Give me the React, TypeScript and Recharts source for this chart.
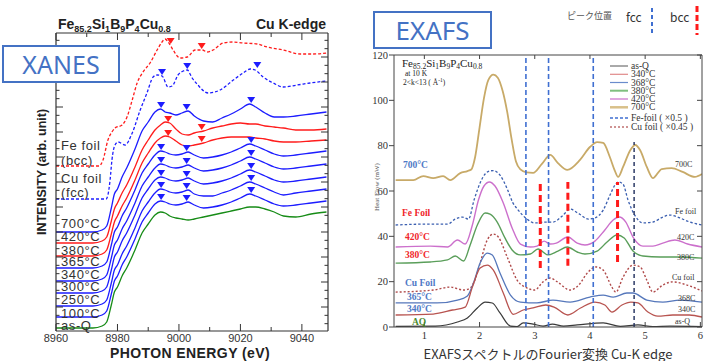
import React from 'react';
import { ComposedChart, Line, Scatter, XAxis, YAxis, ReferenceLine } from 'recharts';

// Two panels side by side: Cu K-edge XANES (left) and the EXAFS Fourier transform (right).

const sans = '"Liberation Sans", Arial, sans-serif';
const serif = '"Liberation Serif", "Times New Roman", serif';
const jp = '"Noto Sans CJK JP", "Noto Sans", sans-serif';
const BOX_BLUE = '#4472c4';

const BLUE = '#1c1cff';
const RED = '#ff1c1c';
const GREEN = '#178c17';

// ---------------- XANES ----------------
const xanesTicksX = [8960, 8970, 8980, 8990, 9000, 9010, 9020, 9030, 9040];

const xanesEnergy = [8960, 8972, 8975, 8976.5, 8978, 8979, 8980, 8981.5, 8983, 8985.7, 8988, 8990, 8992.2, 8994,
  8995.5, 8997, 8999, 9001, 9003, 9005, 9008, 9011, 9014, 9017, 9020, 9023, 9025, 9028, 9031, 9034, 9038, 9043, 9048];
const xanesAsQ = [3, 3, 5, 9, 26, 39, 44, 55, 63, 81, 98, 107, 116, 119,
  118, 115, 113, 112, 111, 112, 114, 116, 118, 120, 122, 124, 124, 122, 119, 115, 114, 117, 119];
const xanes100 = [14, 14, 16, 20, 37, 50, 55, 66, 74, 92, 109, 118, 127, 130,
  129, 127, 126, 127, 129, 126, 123, 124, 126, 129, 133, 137, 135, 131, 127, 125, 126, 128, 130];
const xanes250 = [25, 25, 27, 31, 48, 61, 66, 77, 85, 103, 120, 129, 138, 142,
  141, 139, 138, 139, 141, 137, 135, 135, 138, 141, 145, 149, 147, 143, 139, 136, 138, 140, 142];
const xanes300 = [38, 38, 40, 44, 61, 74, 79, 90, 98, 116, 133, 142, 151, 154,
  153, 151, 150, 151, 153, 150, 147, 148, 150, 153, 157, 161, 159, 155, 151, 149, 150, 152, 154];
const xanes340 = [50, 50, 52, 56, 73, 86, 91, 102, 110, 128, 145, 154, 163, 167,
  166, 164, 163, 164, 166, 163, 160, 161, 163, 166, 170, 174, 172, 168, 164, 162, 163, 165, 167];
const xanes365 = [63, 63, 65, 69, 86, 99, 104, 115, 123, 141, 158, 167, 176, 180,
  179, 177, 176, 177, 179, 176, 173, 174, 176, 179, 183, 187, 185, 181, 177, 175, 176, 178, 180];
const xanes380 = [75, 75, 77, 81, 97, 109, 115, 125, 133, 151, 168, 178, 188, 193,
  195, 194, 190, 186, 185, 186, 188, 191, 193, 194, 194, 194, 193, 192, 190, 189, 189, 190, 191];
const xanes420 = [88, 88, 90, 94, 110, 122, 128, 138, 146, 164, 181, 191, 201, 206,
  209, 208, 202, 197, 196, 198, 200, 203, 205, 207, 208, 207, 207, 205, 204, 203, 201, 201, 202];
const xanes700 = [99, 99, 101, 105, 123, 137, 142, 154, 163, 182, 200, 209, 219, 222,
  219, 218, 216, 218, 220, 215, 210, 209, 213, 217, 222, 227, 224, 218, 214, 214, 215, 217, 219];

const feFoilEnergy = [8960, 8974, 8975.3, 8976.9, 8978.2, 8979.2, 8981.5, 8983.1, 8984.8, 8986.4, 8988.3, 8990.6, 8992.9,
  8994.5, 8995.5, 8996.5, 8998.1, 9000.4, 9002.7, 9005.3, 9007.6, 9009.2, 9011.1, 9014.4, 9017.7, 9020.9, 9025.5,
  9028.7, 9033.9, 9039.5, 9043.7, 9048];
const feFoilXanes = [165, 165, 171, 191, 199, 203, 206, 214, 231, 248, 259, 268, 281,
  289, 292, 289, 281, 273, 274, 281, 281, 279, 281, 288, 289, 288, 287,
  284, 281, 277, 277, 278];

const cuFoilEnergy = [8960, 8976.3, 8976.9, 8977.6, 8978.2, 8979.2, 8980.2, 8982.5, 8984.8, 8987.4, 8989.6, 8991.6, 8992.9,
  8994.5, 8996.5, 8997.8, 8999.7, 9001.4, 9002.7, 9004.3, 9005.9, 9009.5, 9013.4, 9017.7, 9020.9, 9023.2, 9024.8,
  9027.4, 9030.7, 9033.9, 9038.5, 9042.7, 9048];
const cuFoilXanes = [132, 132, 136, 151, 171, 186, 189, 186, 198, 221, 238, 254, 256,
  255, 244, 245, 256, 260, 261, 253, 247, 238, 241, 251, 258, 262, 261,
  254, 248, 244, 246, 248, 250];

// peak markers (down triangles)
const xanesBlueMarks = [
  { e: 8994.2, v: 134 }, { e: 9002.5, v: 133 }, { e: 9023.5, v: 141 },
  { e: 8994.2, v: 146 }, { e: 9002.5, v: 145 }, { e: 9023.5, v: 153 },
  { e: 8994.2, v: 158 }, { e: 9002.5, v: 157 }, { e: 9023.5, v: 165 },
  { e: 8994.2, v: 171 }, { e: 9002.5, v: 170 }, { e: 9023.5, v: 178 },
  { e: 8994.2, v: 184 }, { e: 9002.5, v: 183 }, { e: 9023.5, v: 191 },
  { e: 8994.2, v: 226 }, { e: 9002.5, v: 224 }, { e: 9023.5, v: 231 },
  { e: 8994.5, v: 259 }, { e: 9002.7, v: 265 }, { e: 9025.5, v: 266 },
];
const xanesRedMarks = [
  { e: 8996.5, v: 198 }, { e: 9007.4, v: 192 },
  { e: 8996.5, v: 212 }, { e: 9007.4, v: 204 },
  { e: 8997.3, v: 290 }, { e: 9007.4, v: 285 },
];

const xanesLabels = [
  { t: 'Fe foil', y: 146 }, { t: '(bcc)', y: 161 }, { t: 'Cu foil', y: 179 }, { t: '(fcc)', y: 193 },
  { t: '700°C', y: 224 }, { t: '420°C', y: 237 }, { t: '380°C', y: 251 }, { t: '365°C', y: 262 },
  { t: '340°C', y: 275 }, { t: '300°C', y: 287 }, { t: '250°C', y: 300 }, { t: '100°C', y: 314 },
  { t: 'as-Q', y: 326 },
];

// ---------------- EXAFS ----------------
const exafsTicksX = [1, 2, 3, 4, 5, 6];
const exafsTicksY = [0, 20, 40, 60, 80, 100, 120];

const ex700R = [0.48, 0.8, 0.98, 1.16, 1.34, 1.47, 1.65, 1.78, 1.85, 1.92, 2.0, 2.08, 2.16, 2.25, 2.33, 2.42, 2.5, 2.58,
  2.66, 2.74, 2.85, 2.97, 3.13, 3.28, 3.42, 3.59, 3.82, 4.0, 4.13, 4.24, 4.36, 4.45, 4.51, 4.6, 4.73, 4.82, 4.91, 5.03,
  5.14, 5.3, 5.48, 5.68, 5.9, 6.03];
const ex700 = [64.8, 64.8, 66.6, 65.7, 66.6, 64.8, 67.9, 68.8, 69.5, 75, 88, 101, 109, 111.3, 110, 104, 95, 83,
  73, 69.5, 68.2, 68, 72, 75.9, 72.3, 69.3, 73.7, 79.4, 81.6, 81.2, 75, 69, 66.2, 70.6, 78, 80.3, 78, 70.6,
  65.7, 69.7, 70.1, 68.4, 66.2, 67.5];

const exFeR = [0.48, 1.05, 1.42, 1.56, 1.69, 1.8, 1.9, 2.01, 2.1, 2.18, 2.25, 2.37, 2.5, 2.6, 2.7, 2.86, 3.0, 3.19, 3.33,
  3.5, 3.64, 3.78, 3.97, 4.09, 4.24, 4.36, 4.45, 4.52, 4.6, 4.69, 4.82, 4.96, 5.14, 5.32, 5.45, 5.63, 5.81, 6.03];
const exFe = [45, 45.4, 45.4, 47.6, 48.5, 47.6, 56, 63.5, 67.5, 68.8, 69, 67, 61, 55, 51.6, 47.6, 45.9, 46.3, 46.3,
  49, 52, 50.3, 47.6, 48.1, 51.6, 58, 62.5, 64, 63, 56, 49, 45.9, 46.3, 48.5, 49.4, 48.1, 46.3, 45];

const ex420R = [0.48, 1.11, 1.42, 1.6, 1.74, 1.87, 1.98, 2.08, 2.18, 2.28, 2.43, 2.59, 2.74, 2.92, 3.04, 3.17, 3.28, 3.39,
  3.6, 3.77, 3.91, 4.09, 4.27, 4.42, 4.53, 4.65, 4.78, 4.96, 5.14, 5.32, 5.54, 5.77, 6.03];
const ex420 = [35.3, 35.7, 35.3, 38.4, 36.6, 45, 56, 62.2, 64, 62.2, 54.7, 43.7, 36.6, 35.3, 35.7, 37.9, 36.6, 37,
  39.7, 37, 36.2, 37.9, 42.8, 47.2, 48.5, 46.3, 39.7, 35.7, 35.7, 37, 38.4, 36.6, 35.3];

const ex380R = [0.48, 1.11, 1.42, 1.56, 1.71, 1.83, 1.96, 2.1, 2.19, 2.32, 2.46, 2.59, 2.74, 2.92, 3.06, 3.24, 3.42,
  3.59, 3.77, 3.91, 4.13, 4.31, 4.49, 4.62, 4.78, 4.96, 5.27, 5.63, 6.03];
const ex380 = [28.2, 28.7, 29.6, 31.3, 29.1, 36.2, 45, 50.3, 49.8, 46.3, 39.3, 34, 31.8, 32.2, 34.4, 31.8, 33.5,
  35.3, 33.1, 32.2, 33.5, 37.5, 40.6, 39.3, 33.5, 31.3, 30.9, 30.9, 30.4];

const exCuR = [0.48, 1.16, 1.47, 1.71, 1.83, 1.92, 2.01, 2.14, 2.25, 2.34, 2.5, 2.68, 2.86, 3.0, 3.15, 3.28, 3.41, 3.64,
  3.78, 3.97, 4.11, 4.24, 4.4, 4.47, 4.6, 4.78, 4.91, 5.03, 5.14, 5.32, 5.5, 5.76, 6.03];
const exCu = [15.4, 16.3, 17.6, 16.3, 17.2, 21, 28.2, 38.4, 41, 39.7, 30.9, 20.7, 17.2, 16.3, 19.9, 21.6, 19.9, 16.3,
  18.1, 24.3, 26.5, 25.1, 17.5, 15.4, 22, 27.3, 26.5, 20.7, 15.4, 18.5, 19.9, 18.5, 15.9];

const ex368R = [0.48, 1.23, 1.6, 1.78, 1.89, 2.01, 2.14, 2.23, 2.37, 2.56, 2.74, 3.04, 3.33, 3.64, 4.0, 4.24, 4.42, 4.67,
  4.78, 5.03, 5.32, 5.63, 6.03];
const ex368 = [10.6, 10.6, 11.9, 13.7, 19.4, 28.2, 32.6, 31.8, 23.8, 14.1, 11, 10.6, 11.9, 11, 13.2, 14.1, 13.2, 15,
  15, 11.9, 11, 11.9, 11];

const ex340R = [0.48, 1.16, 1.51, 1.74, 1.87, 2.01, 2.14, 2.25, 2.43, 2.61, 2.79, 2.97, 3.2, 3.35, 3.6, 3.83, 4.09, 4.27,
  4.4, 4.58, 4.74, 4.87, 5.05, 5.23, 5.5, 5.8, 6.03];
const ex340 = [5.3, 5.7, 7.5, 8.8, 17.6, 26, 27.3, 25.1, 15, 5.6, 7.5, 8.4, 9.7, 8.8, 5.3, 8.4, 11, 9.7,
  6.6, 9.7, 11, 10.6, 6.6, 4.8, 5.3, 5.3, 4.4];

const exAsQR = [0.48, 1.2, 1.6, 1.78, 1.96, 2.1, 2.23, 2.37, 2.56, 2.68, 2.79, 2.97, 3.15, 3.32, 3.52, 3.77, 4.24, 4.55,
  4.87, 5.14, 5.45, 6.03];
const exAsQ = [0.3, 0.4, 2.2, 4, 8.4, 11, 10.6, 6.2, 0.4, 0.2, 1.8, 1.3, 0.4, 1.3, 0.4, 0.9, 1.8, 0.3, 0.9, 0.2, 0.4, 0.2];

const fccPeaks = [2.84, 3.25, 4.06];
const fccPeakDark = { r: 4.8, top: 81.6 };
const bccPeaks = [{ r: 3.1, lo: 26, hi: 63.5 }, { r: 3.6, lo: 27, hi: 64 }, { r: 4.5, lo: 28.7, hi: 64 }];

const exLegend = [
  { t: 'as-Q', c: '#555', w: 1, d: undefined, y: 66 },
  { t: '340°C', c: '#e08a8a', w: 1.2, d: undefined, y: 74.3 },
  { t: '368°C', c: '#6a8ccc', w: 1.2, d: undefined, y: 82.5 },
  { t: '380°C', c: '#7fbf7f', w: 2, d: undefined, y: 90.7 },
  { t: '420°C', c: '#d58ad5', w: 1.5, d: undefined, y: 99 },
  { t: '700°C', c: '#d9c08a', w: 2.5, d: undefined, y: 107.3 },
  { t: 'Fe-foil ( ×0.5 )', c: '#3f6fd1', w: 1.4, d: '3 2', y: 118 },
  { t: 'Cu foil ( ×0.45 )', c: '#c07070', w: 1.4, d: '2 2', y: 127 },
];

const exLeftLabels = [
  { t: '700°C', c: '#4f79c6', x: 403, y: 165 }, { t: 'Fe Foil', c: '#f0262b', x: 402, y: 213 },
  { t: '420°C', c: '#f0262b', x: 405, y: 237 }, { t: '380°C', c: '#f0262b', x: 405, y: 255 },
  { t: 'Cu Foil', c: '#4f79c6', x: 405, y: 283 }, { t: '365°C', c: '#4f79c6', x: 407, y: 297 },
  { t: '340°C', c: '#4f79c6', x: 407, y: 309 }, { t: 'AQ', c: '#4d8b2e', x: 412, y: 322 },
];
const exRightLabels = [
  { t: '700C', x: 675, y: 164 }, { t: 'Fe foil', x: 675, y: 211 }, { t: '420C', x: 677, y: 237 },
  { t: '380C', x: 677, y: 257 }, { t: 'Cu foil', x: 672, y: 277 }, { t: '368C', x: 678, y: 298 },
  { t: '340C', x: 678, y: 309 }, { t: 'as-Q', x: 675, y: 321 },
];

const toRows = (xs: number[], vs: number[]) => xs.map((e, i) => ({ e, v: vs[i] }));

const xanesSeries = [
  { id: 'fe', rows: toRows(feFoilEnergy, feFoilXanes), color: RED, dash: '3 2' },
  { id: 'cu', rows: toRows(cuFoilEnergy, cuFoilXanes), color: BLUE, dash: '3 2' },
  { id: '700', rows: toRows(xanesEnergy, xanes700), color: BLUE },
  { id: '420', rows: toRows(xanesEnergy, xanes420), color: RED },
  { id: '380', rows: toRows(xanesEnergy, xanes380), color: RED },
  { id: '365', rows: toRows(xanesEnergy, xanes365), color: BLUE },
  { id: '340', rows: toRows(xanesEnergy, xanes340), color: BLUE },
  { id: '300', rows: toRows(xanesEnergy, xanes300), color: BLUE },
  { id: '250', rows: toRows(xanesEnergy, xanes250), color: BLUE },
  { id: '100', rows: toRows(xanesEnergy, xanes100), color: BLUE },
  { id: 'asq', rows: toRows(xanesEnergy, xanesAsQ), color: GREEN },
];

const exafsSeries = [
  { id: '700', rows: toRows(ex700R, ex700), color: '#c8aa68', w: 1.8 },
  { id: 'fe', rows: toRows(exFeR, exFe), color: '#3b5fb0', w: 1.3, dash: '2.5 2' },
  { id: '420', rows: toRows(ex420R, ex420), color: '#cc70cc', w: 1.4 },
  { id: '380', rows: toRows(ex380R, ex380), color: '#5a9e5a', w: 1.4 },
  { id: 'cu', rows: toRows(exCuR, exCu), color: '#b04a4a', w: 1.4, dash: '2 2' },
  { id: '368', rows: toRows(ex368R, ex368), color: '#5577bb', w: 1.3 },
  { id: '340', rows: toRows(ex340R, ex340), color: '#b85450', w: 1.3 },
  { id: 'asq', rows: toRows(exAsQR, exAsQ), color: '#3a3a3a', w: 1.2 },
];

// y ticks on the XANES frame, no labels (every 8.3 px, long every third)
const xanesTicksY = Array.from({ length: 35 }, (_, j) => 24 + ((j - 2) * 25) / 3).filter((v) => v > 0 && v < 298);
const isMajorY = (v: number) => {
  const k = Math.round((v - 24) / (25 / 3));
  return ((k % 3) + 3) % 3 === 0;
};

function Txt({ x, y, size, color = '#333', weight = 400, family = sans, anchor = 'start', lh = 1, children, style }: any) {
  const tr = anchor === 'end' ? 'translate(-100%,-50%)' : anchor === 'middle' ? 'translate(-50%,-50%)' : 'translateY(-50%)';
  return (
    <div style={{ position: 'absolute', left: x, top: y, transform: tr, fontSize: size, color, fontWeight: weight,
      fontFamily: family, whiteSpace: 'nowrap', lineHeight: lh, ...style }}>
      {children}
    </div>
  );
}

const Sub = ({ children, size = 9, drop = 3 }: any) => (
  <span style={{ fontSize: size, position: 'relative', top: drop, lineHeight: 0 }}>{children}</span>
);

const DownTri = ({ cx, cy, fill }: any) => (
  <path d={`M${cx - 4},${cy - 3}L${cx + 4},${cy - 3}L${cx},${cy + 3}Z`} fill={fill} />
);

function XanesBottomTick({ x, y, payload }: any) {
  const major = payload.value % 20 === 0;
  return (
    <g>
      <line x1={x} x2={x} y1={y} y2={y - (major ? 7 : 4)} stroke="#333" />
      {major && (
        <text x={x} y={y + 11} textAnchor="middle" fontSize={11} fill="#333" fontFamily={sans}>{payload.value}</text>
      )}
    </g>
  );
}
const XanesTopTick = ({ x, y, payload }: any) => (
  <line x1={x} x2={x} y1={y} y2={y + (payload.value % 20 === 0 ? 7 : 4)} stroke="#333" />
);
const XanesLeftTick = ({ x, y, payload }: any) => (
  <line x1={x} x2={x + (isMajorY(payload.value) ? 7 : 3.5)} y1={y} y2={y} stroke="#333" />
);
const XanesRightTick = ({ x, y, payload }: any) => (
  <line x1={x} x2={x - (isMajorY(payload.value) ? 7 : 3.5)} y1={y} y2={y} stroke="#333" />
);

function ExBottomTick({ x, y, payload }: any) {
  return (
    <g>
      <line x1={x} x2={x} y1={y} y2={y - 5} stroke="#444" />
      <text x={x} y={y + 12} textAnchor="middle" fontSize={10.5} fill="#333" fontFamily={serif}>{payload.value}</text>
    </g>
  );
}
const ExTopTick = ({ x, y }: any) => <line x1={x} x2={x} y1={y} y2={y + 4} stroke="#444" />;
function ExLeftTick({ x, y, payload }: any) {
  return (
    <g>
      <line x1={x} x2={x - 5} y1={y} y2={y} stroke="#444" />
      <text x={x - 6} y={y + 3.5} textAnchor="end" fontSize={10.5} fill="#333" fontFamily={serif}>{payload.value}</text>
    </g>
  );
}
const ExRightTick = ({ x, y }: any) => <line x1={x} x2={x - 5} y1={y} y2={y} stroke="#444" />;

function XanesPanel() {
  const axisLine = { stroke: '#333', strokeWidth: 1.2 };
  return (
    <>
      <div style={{ position: 'absolute', left: 0, top: 0 }}>
        <ComposedChart width={350} height={361} margin={{ top: 32, right: 21, bottom: 0, left: 55 }}>
          <XAxis xAxisId="b" type="number" dataKey="e" domain={[8960, 9048.5]} allowDataOverflow ticks={xanesTicksX}
            interval={0} height={30} tickSize={0} tickMargin={0} tickLine={false} axisLine={axisLine}
            tick={(p: any) => <XanesBottomTick {...p} />} />
          <XAxis xAxisId="t" orientation="top" type="number" dataKey="e" domain={[8960, 9048.5]} allowDataOverflow
            ticks={xanesTicksX} interval={0} height={1} tickSize={0} tickMargin={0} tickLine={false} axisLine={axisLine}
            tick={(p: any) => <XanesTopTick {...p} />} />
          <YAxis yAxisId="l" type="number" domain={[0, 298]} allowDataOverflow ticks={xanesTicksY} interval={0}
            width={1} tickSize={0} tickMargin={0} tickLine={false} axisLine={axisLine}
            tick={(p: any) => <XanesLeftTick {...p} />} />
          <YAxis yAxisId="r" orientation="right" type="number" domain={[0, 298]} allowDataOverflow ticks={xanesTicksY}
            interval={0} width={1} tickSize={0} tickMargin={0} tickLine={false} axisLine={axisLine}
            tick={(p: any) => <XanesRightTick {...p} />} />
          {xanesSeries.map((s) => (
            <Line key={s.id} xAxisId="b" yAxisId="l" data={s.rows} dataKey="v" type="monotone" stroke={s.color}
              strokeWidth={1.3} strokeDasharray={s.dash} dot={false} activeDot={false} isAnimationActive={false} />
          ))}
          <Scatter xAxisId="b" yAxisId="l" data={xanesBlueMarks} dataKey="v" isAnimationActive={false}
            shape={(p: any) => <DownTri cx={p.cx} cy={p.cy} fill={BLUE} />} />
          <Scatter xAxisId="b" yAxisId="l" data={xanesRedMarks} dataKey="v" isAnimationActive={false}
            shape={(p: any) => <DownTri cx={p.cx} cy={p.cy} fill={RED} />} />
        </ComposedChart>
      </div>

      <Txt x={58} y={24} size={14} weight={700} color="#222">
        Fe<Sub>85.2</Sub>Si<Sub>1</Sub>B<Sub>9</Sub>P<Sub>4</Sub>Cu<Sub>0.8</Sub>
      </Txt>
      <Txt x={326} y={24} size={14} weight={700} color="#222" anchor="end">Cu K-edge</Txt>
      {xanesLabels.map((l) => (
        <Txt key={l.t} x={61} y={l.y} size={13} lh="10px" color="#333" style={{ letterSpacing: 0.6 }}>{l.t}</Txt>
      ))}
      <Txt x={190} y={353} size={14} weight={700} color="#222" anchor="middle" style={{ letterSpacing: 0.4 }}>
        PHOTON ENERGY (eV)
      </Txt>
      <div style={{ position: 'absolute', left: 42, top: 172, transform: 'translate(-50%,-50%) rotate(-90deg)',
        fontFamily: sans, fontWeight: 700, fontSize: 12.5, color: '#222', whiteSpace: 'nowrap', lineHeight: 1 }}>
        INTENSITY (arb. unit)
      </div>
      <div style={{ position: 'absolute', left: 2, top: 45, width: 114, height: 34, border: `2px solid ${BOX_BLUE}`,
        background: '#fff', color: BOX_BLUE, fontFamily: '"Noto Sans", sans-serif', fontSize: 25, lineHeight: '34px',
        textAlign: 'center' }}>
        XANES
      </div>
    </>
  );
}

function ExafsPanel() {
  const axisLine = { stroke: '#444', strokeWidth: 1 };
  return (
    <>
      <div style={{ position: 'absolute', left: 350, top: 0 }}>
        <ComposedChart width={354} height={361} margin={{ top: 54, right: 1, bottom: 0, left: 43 }}>
          <XAxis xAxisId="b" type="number" dataKey="e" domain={[0.45, 6.03]} allowDataOverflow ticks={exafsTicksX}
            interval={0} height={34} tickSize={0} tickMargin={0} tickLine={false} axisLine={axisLine}
            tick={(p: any) => <ExBottomTick {...p} />} />
          <XAxis xAxisId="t" orientation="top" type="number" dataKey="e" domain={[0.45, 6.03]} allowDataOverflow
            ticks={exafsTicksX} interval={0} height={1} tickSize={0} tickMargin={0} tickLine={false} axisLine={axisLine}
            tick={(p: any) => <ExTopTick {...p} />} />
          <YAxis yAxisId="l" type="number" domain={[0, 120]} allowDataOverflow ticks={exafsTicksY} interval={0}
            width={1} tickSize={0} tickMargin={0} tickLine={false} axisLine={axisLine}
            tick={(p: any) => <ExLeftTick {...p} />} />
          <YAxis yAxisId="r" orientation="right" type="number" domain={[0, 120]} allowDataOverflow ticks={exafsTicksY}
            interval={0} width={1} tickSize={0} tickMargin={0} tickLine={false} axisLine={axisLine}
            tick={(p: any) => <ExRightTick {...p} />} />
          {exafsSeries.map((s) => (
            <Line key={s.id} xAxisId="b" yAxisId="l" data={s.rows} dataKey="v" type="monotone" stroke={s.color}
              strokeWidth={s.w} strokeDasharray={s.dash} dot={false} activeDot={false} isAnimationActive={false} />
          ))}
          {fccPeaks.map((r) => (
            <ReferenceLine key={r} xAxisId="b" yAxisId="l" x={r} stroke="#3f6fd1" strokeWidth={1.6} strokeDasharray="5 3" />
          ))}
          <ReferenceLine xAxisId="b" yAxisId="l" segment={[{ x: fccPeakDark.r, y: 0 }, { x: fccPeakDark.r, y: fccPeakDark.top }]}
            stroke="#1e2d5c" strokeWidth={1.4} strokeDasharray="4 3" />
          {bccPeaks.map((b) => (
            <ReferenceLine key={b.r} xAxisId="b" yAxisId="l" segment={[{ x: b.r, y: b.lo }, { x: b.r, y: b.hi }]}
              stroke="#ff1a1a" strokeWidth={3} strokeDasharray="7 4" />
          ))}
        </ComposedChart>
      </div>

      <Txt x={402} y={63} size={11} lh="9px" family={serif} color="#222">
        Fe<Sub size={7.5} drop={2}>85.2</Sub>Si<Sub size={7.5} drop={2}>1</Sub>B<Sub size={7.5} drop={2}>9</Sub>P
        <Sub size={7.5} drop={2}>4</Sub>Cu<Sub size={7.5} drop={2}>0.8</Sub>
      </Txt>
      <Txt x={405} y={73} size={7.5} lh="7px" family={serif} color="#222">at 10 K</Txt>
      <Txt x={403} y={82} size={7.5} lh="7px" family={serif} color="#222">
        2&lt;k&lt;13 ( Å<span style={{ fontSize: 5.5, position: 'relative', top: -3, lineHeight: 0 }}>-1</span>)
      </Txt>

      {exLeftLabels.map((l) => (
        <Txt key={l.t} x={l.x} y={l.y} size={9.5} lh="9px" weight={700} family={serif} color={l.c}>{l.t}</Txt>
      ))}
      {exRightLabels.map((l) => (
        <Txt key={l.t + l.y} x={l.x} y={l.y} size={8} lh="7px" family={serif} color="#333">{l.t}</Txt>
      ))}
      {exLegend.map((l) => (
        <Txt key={l.t} x={631} y={l.y} size={9.5} lh="7px" family={serif} color="#333">{l.t}</Txt>
      ))}

      <svg width={704} height={361} style={{ position: 'absolute', left: 0, top: 0, pointerEvents: 'none' }}>
        {exLegend.map((l) => (
          <line key={l.t} x1={610} x2={628} y1={l.y} y2={l.y} stroke={l.c} strokeWidth={l.w} strokeDasharray={l.d} />
        ))}
        <line x1={652} x2={652} y1={8} y2={35} stroke="#3f6fd1" strokeWidth={2} strokeDasharray="4 3" />
        <line x1={697} x2={697} y1={6} y2={35} stroke="#ff1a1a" strokeWidth={3} strokeDasharray="6 3" />
      </svg>

      <Txt x={567} y={15} size={9} family={jp} color="#555">ピーク位置</Txt>
      <Txt x={626} y={17} size={12} family={jp} color="#333">fcc</Txt>
      <Txt x={670} y={17} size={12} family={jp} color="#333">bcc</Txt>

      <div style={{ position: 'absolute', left: 377, top: 187, transform: 'translate(-50%,-50%) rotate(-90deg)',
        fontFamily: serif, fontSize: 7, color: '#555', whiteSpace: 'nowrap', lineHeight: 1 }}>
        Heat Flow (mW)
      </div>
      <Txt x={548} y={353} size={13} family={jp} color="#333" anchor="middle">EXAFSスペクトルのFourier変換 Cu-K edge</Txt>
      <div style={{ position: 'absolute', left: 373, top: 11, width: 115, height: 34, border: `2px solid ${BOX_BLUE}`,
        background: '#fff', color: BOX_BLUE, fontFamily: '"Noto Sans", sans-serif', fontSize: 26, lineHeight: '34px',
        textAlign: 'center' }}>
        EXAFS
      </div>
    </>
  );
}

export default function App() {
  return (
    <div style={{ position: 'absolute', left: 0, top: 0, width: 704, height: 361, background: '#fff', overflow: 'hidden' }}>
      <XanesPanel />
      <ExafsPanel />
    </div>
  );
}
